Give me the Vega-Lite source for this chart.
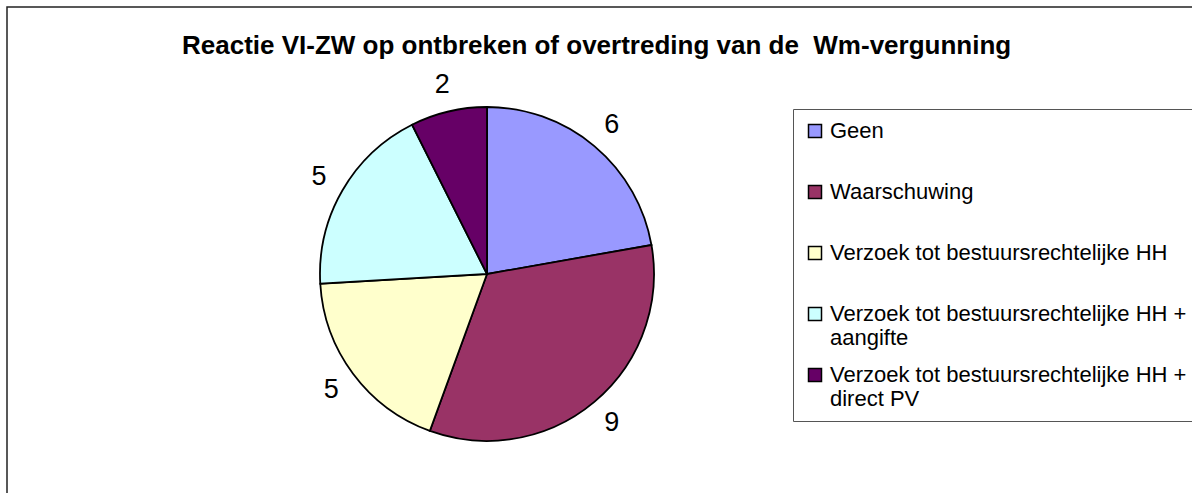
{
  "$schema": "https://vega.github.io/schema/vega-lite/v6.json",
  "width": 1205,
  "height": 500,
  "autosize": {"type": "none"},
  "padding": {"left": 7, "top": 7, "right": -20, "bottom": -14},
  "background": "white",
  "view": {"stroke": "#222", "strokeWidth": 1.5, "fill": "white"},
  "config": {
    "view": {"stroke": "#222", "strokeWidth": 1.5},
    "font": "Liberation Sans"
  },
  "title": {
    "text": "Reactie VI-ZW op ontbreken of overtreding van de \u00a0Wm-vergunning",
    "font": "Liberation Sans",
    "fontSize": 26,
    "fontWeight": "bold",
    "color": "#000",
    "anchor": "start",
    "baseline": "middle",
    "offset": 0,
    "dy": 65,
    "dx": 175
  },
  "data": {
    "values": [
      {"idx": 1, "reactie": "Geen", "aantal": 6},
      {"idx": 2, "reactie": "Waarschuwing", "aantal": 9},
      {"idx": 3, "reactie": "Verzoek tot bestuursrechtelijke HH", "aantal": 5},
      {"idx": 4, "reactie": "Verzoek tot bestuursrechtelijke HH + aangifte", "aantal": 5},
      {"idx": 5, "reactie": "Verzoek tot bestuursrechtelijke HH + direct PV", "aantal": 2}
    ]
  },
  "encoding": {
    "theta": {"field": "aantal", "type": "quantitative", "stack": true},
    "order": {"field": "idx", "type": "quantitative"}
  },
  "layer": [
    {
      "mark": {"type": "arc", "outerRadius": 167, "x": 480, "y": 267, "stroke": "#000", "strokeWidth": 1.8},
      "encoding": {
        "color": {
          "field": "reactie",
          "type": "nominal",
          "scale": {
            "domain": ["Geen", "Waarschuwing", "Verzoek tot bestuursrechtelijke HH", "Verzoek tot bestuursrechtelijke HH + aangifte", "Verzoek tot bestuursrechtelijke HH + direct PV"],
            "range": ["#9999FF", "#993366", "#FFFFCC", "#CCFFFF", "#660066"]
          },
          "legend": {
            "title": null,
            "orient": "none",
            "legendX": 786,
            "legendY": 102,
            "padding": 11,
            "strokeColor": "#555",
            "fillColor": "white",
            "symbolType": "square",
            "symbolSize": 169,
            "symbolStrokeColor": "#000",
            "symbolStrokeWidth": 1.5,
            "symbolOpacity": 1,
            "labelFont": "Liberation Sans",
            "labelFontSize": 22,
            "labelColor": "#000",
            "labelLimit": 600,
            "labelOffset": 4,
            "rowPadding": 15,
            "labelExpr": "indexof(datum.label, 'HH + ') >= 0 ? [substring(datum.label, 0, indexof(datum.label, 'HH + ') + 4), substring(datum.label, indexof(datum.label, 'HH + ') + 5)] : [datum.label, '']"
          }
        }
      }
    },
    {
      "mark": {"type": "text", "radius": 194, "x": 480, "y": 267, "fontSize": 27, "font": "Liberation Sans", "color": "#000", "align": "center", "baseline": "middle"},
      "encoding": {
        "text": {"field": "aantal", "type": "quantitative"}
      }
    }
  ]
}
